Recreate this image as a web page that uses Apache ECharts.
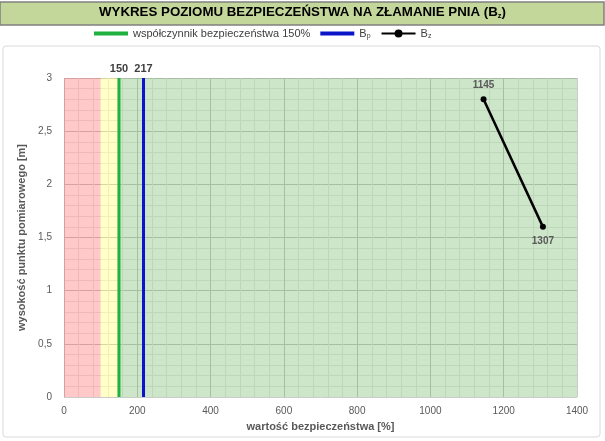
<!DOCTYPE html>
<html>
<head>
<meta charset="utf-8">
<script src="https://cdn.jsdelivr.net/npm/echarts@6/dist/echarts.min.js"></script>
<style>
  html, body { margin: 0; padding: 0; background: #fff; }
  #main { width: 605px; height: 441px; }
</style>
</head>
<body>
<div id="main"></div>
<script>
// wartości z wykresu
var xTicks = [0, 200, 400, 600, 800, 1000, 1200, 1400];
var yTicks = [0, 0.5, 1, 1.5, 2, 2.5, 3];
var factorLine = 150;   // współczynnik bezpieczeństwa 150%
var bpLine = 217;       // Bp
var bzValues = [1145, 1307];
var bzHeights = [2.8, 1.6];
var zoneEdges = [0, 100, 150, 1400]; // czerwona / żółta / zielona

var myChart = echarts.init(document.getElementById('main'));

var font = 'Liberation Sans';
var subRich = {
  n: { fontFamily: font, fontSize: 11, color: '#404040' },
  s: { fontFamily: font, fontSize: 7, color: '#404040', verticalAlign: 'bottom', padding: [6, 0, 0, 0] }
};
var topLabel = { show: true, position: 'top', distance: 4, fontFamily: font, fontWeight: 'bold', fontSize: 11, color: '#404040' };
var barIcon = 'path://M0,0H34V4H0Z';

myChart.setOption({
  animation: false,
  graphic: [
    { type: 'rect', shape: { x: 3, y: 46, width: 597, height: 391, r: 3 },
      style: { fill: '#fff', stroke: '#d9d9d9', lineWidth: 1 }, z: -10 },
    { type: 'rect', shape: { x: 0, y: 2, width: 604, height: 23 },
      style: { fill: '#c4d79b', stroke: '#808080', lineWidth: 1.5 }, z: 0 },
    { type: 'text', left: 'center', top: 6, z: 1,
      style: {
        text: '{t|WYKRES POZIOMU BEZPIECZEŃSTWA NA ZŁAMANIE PNIA (B}{s|z}{t|)}',
        rich: {
          t: { fontFamily: font, fontWeight: 'bold', fontSize: 13.3, fill: '#000' },
          s: { fontFamily: font, fontWeight: 'bold', fontSize: 7.5, fill: '#000', verticalAlign: 'bottom', padding: [7, 0, 0, 0] }
        }
      } }
  ],
  legend: {
    top: 23,
    left: 89,
    itemWidth: 34,
    itemHeight: 10,
    itemGap: 10,
    textStyle: { fontFamily: font, fontSize: 11, color: '#404040', rich: subRich },
    formatter: function (name) {
      if (name === 'Bp') return '{n|B}{s|p}';
      if (name === 'Bz') return '{n|B}{s|z}';
      return '{n|' + name + '}';
    },
    data: [
      { name: 'współczynnik bezpieczeństwa 150%', icon: barIcon },
      { name: 'Bp', icon: barIcon },
      { name: 'Bz' }
    ]
  },
  grid: { left: 64, right: 28, top: 78, bottom: 44 },
  xAxis: {
    type: 'value',
    min: xTicks[0],
    max: xTicks[xTicks.length - 1],
    interval: 200,
    name: 'wartość bezpieczeństwa [%]',
    nameLocation: 'middle',
    nameGap: 24,
    nameTextStyle: { fontFamily: font, fontWeight: 'bold', fontSize: 11, color: '#595959' },
    axisLine: { show: false },
    axisTick: { show: false },
    axisLabel: { fontFamily: font, fontSize: 10, color: '#595959', margin: 9,
      formatter: function (v) { return String(v); } },
    splitLine: { show: true, lineStyle: { color: '#cbcbcb', width: 1 } },
    minorTick: { show: false, splitNumber: 5 },
    minorSplitLine: { show: true, lineStyle: { color: '#ebebeb', width: 1 } }
  },
  yAxis: {
    type: 'value',
    min: yTicks[0],
    max: yTicks[yTicks.length - 1],
    interval: 0.5,
    name: 'wysokość punktu pomiarowego [m]',
    nameLocation: 'middle',
    nameGap: 35,
    nameTextStyle: { fontFamily: font, fontWeight: 'bold', fontSize: 11, color: '#595959' },
    axisLine: { show: false },
    axisTick: { show: false },
    axisLabel: {
      fontFamily: font, fontSize: 10, color: '#595959', margin: 12,
      formatter: function (v) { return String(v).replace('.', ','); }
    },
    splitLine: { show: true, lineStyle: { color: '#cbcbcb', width: 1 } },
    minorTick: { show: false, splitNumber: 5 },
    minorSplitLine: { show: true, lineStyle: { color: '#ebebeb', width: 1 } }
  },
  series: [
    {
      name: 'współczynnik bezpieczeństwa 150%',
      type: 'line',
      symbol: 'none',
      color: '#1fb040',
      lineStyle: { color: '#1fb040', width: 3 },
      data: [[factorLine, 0], [factorLine, 3]],
      z: 3,
      markPoint: {
        silent: true,
        symbol: 'circle',
        symbolSize: 0,
        label: topLabel,
        data: [{ coord: [factorLine, 3], value: factorLine }]
      },
      markArea: {
        silent: true,
        data: [
          [{ xAxis: zoneEdges[0], yAxis: 0, itemStyle: { color: 'rgba(255,0,0,0.21)' } }, { xAxis: zoneEdges[1], yAxis: 3 }],
          [{ xAxis: zoneEdges[1], yAxis: 0, itemStyle: { color: 'rgba(255,255,0,0.22)' } }, { xAxis: zoneEdges[2], yAxis: 3 }],
          [{ xAxis: zoneEdges[2], yAxis: 0, itemStyle: { color: 'rgba(55,151,39,0.25)' } }, { xAxis: zoneEdges[3], yAxis: 3 }]
        ]
      }
    },
    {
      name: 'Bp',
      type: 'line',
      symbol: 'none',
      color: '#0a14c8',
      lineStyle: { color: '#0a14c8', width: 3 },
      data: [[bpLine, 0], [bpLine, 3]],
      z: 3,
      markPoint: {
        silent: true,
        symbol: 'circle',
        symbolSize: 0,
        label: topLabel,
        data: [{ coord: [bpLine, 3], value: bpLine }]
      }
    },
    {
      name: 'Bz',
      type: 'line',
      symbol: 'circle',
      symbolSize: 6,
      color: '#000',
      lineStyle: { color: '#000', width: 2.5 },
      itemStyle: { color: '#000' },
      data: bzValues.map(function (v, i) {
        return { value: [v, bzHeights[i]], label: { position: i === 0 ? 'top' : 'bottom' } };
      }),
      label: { show: true, distance: 6, fontFamily: font, fontWeight: 'bold', fontSize: 10, color: '#595959',
        formatter: function (p) { return p.value[0]; } },
      z: 4
    }
  ]
});
</script>
</body>
</html>
